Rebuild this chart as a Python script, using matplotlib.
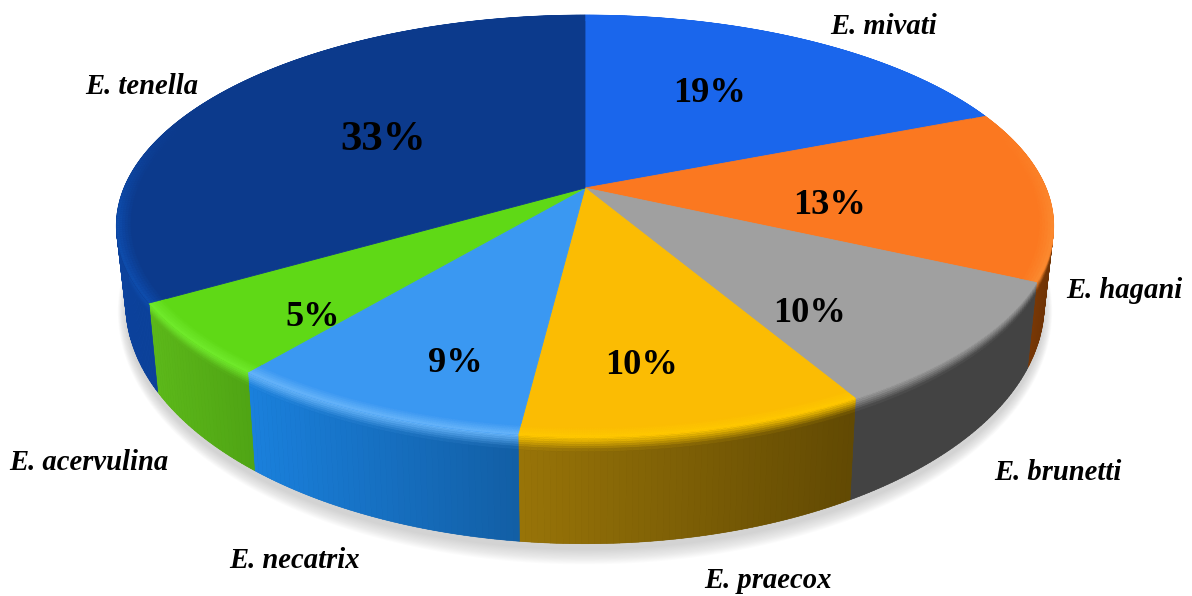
import numpy as np
import matplotlib
matplotlib.use("Agg")
import matplotlib.pyplot as plt
from matplotlib.collections import PolyCollection
from matplotlib.colors import to_rgb
from matplotlib.patches import Polygon

# Species and their share of the total, clockwise from twelve o'clock
species = ["E. mivati", "E. hagani", "E. brunetti", "E. praecox",
           "E. necatrix", "E. acervulina", "E. tenella"]
shares = [18.5, 12.89, 9.54, 9.94, 8.75, 5.49, 32.9]

# Colours of the top face, the rim highlight and the side wall (left to right)
top_colors = ["#1a66ec", "#fb7820", "#a0a0a0", "#fbbc03", "#3a98f2", "#5fd916", "#0c3a8c"]
rim_colors = ["#1a66ec", "#fb8a30", "#a0a0a0", "#ffc800", "#66b4fa", "#70ea2c", "#0e4cac"]
wall_left = ["#1450b8", "#98480a", "#434343", "#987408", "#1a80dc", "#5cb81a", "#0c429c"]
wall_right = ["#1450b8", "#6e3305", "#434343", "#614903", "#125ea4", "#4fa414", "#0b3a8e"]

# Where the texts sit in the canvas, in pixels
name_xy = [(884, 26), (1124, 291), (1058, 473), (768, 581), (295, 560), (89, 462), (142, 87)]
pct_xy = [(709, 94), (830, 205), (810, 313), (641, 366), (455, 364), (313, 317), (383, 140)]
pct_size = [26.2, 26.2, 26.2, 26.2, 26.2, 26.2, 31]

# Perspective of the disc
CX, CY = 585.0, 188.0
A, B, K = 461.0, 204.0, 0.18


def project(theta, r=1.0):
    u, v = r * np.sin(theta), r * np.cos(theta)
    w = 1 + K * v
    return CX + A * u / w, CY - B * v / w


def drop(x, y, t=1.0):
    """Move a rim point down the side wall; t=1 reaches the lower edge."""
    return x + t * (CX - x) * 0.02, y + t * (87 + 0.136 * (y - 290))


def mix(a, b, f):
    return tuple((1 - f) * np.array(a) + f * np.array(b))


fig = plt.figure(figsize=(11.92, 5.96), dpi=100, facecolor="white")
ax = fig.add_axes([0, 0, 1, 1])
ax.set_xlim(0, 1192)
ax.set_ylim(596, 0)
ax.axis("off")

# Soft shadow under the lower edge
full = np.linspace(0, 2 * np.pi, 361)
sx, sy = drop(*project(full))
sx0, sy0 = sx.mean(), sy.mean()
for grow in np.linspace(12, 0, 13):
    fx = sx0 + (sx - sx0) * (1 + grow / 700)
    fy = sy0 + 6 + (sy - sy0) * (1 + grow / 215)
    ax.add_patch(Polygon(np.c_[fx, fy], closed=True, fc="#808080", ec="none", alpha=0.028, zorder=1))

edges = 2 * np.pi * np.r_[0, np.cumsum(shares)] / np.sum(shares)
depth_rows = np.r_[0, 0.015, 0.03, 0.05, 0.07, 0.09, 0.11, 0.14, 1.0]

# Side walls
for i in range(len(shares)):
    th = np.linspace(edges[i], edges[i + 1], max(6, int((edges[i + 1] - edges[i]) * 90)))
    x, y = project(th)
    xb, yb = drop(x, y)
    ax.add_patch(Polygon(np.r_[np.c_[x, y], np.c_[xb, yb][::-1]], closed=True,
                         fc=wall_right[i], ec="none", zorder=2))
    quads, cols = [], []
    span = x.max() - x.min()
    wl, wr, rim = map(to_rgb, (wall_left[i], wall_right[i], rim_colors[i]))
    for k in range(len(th) - 1):
        f = (min(x[k], x[k + 1]) - x.min()) / span
        base = mix(wl, wr, f)
        for t0, t1 in zip(depth_rows[:-1], depth_rows[1:]):
            quads.append([drop(x[k], y[k], t0), drop(x[k + 1], y[k + 1], t0),
                          drop(x[k + 1], y[k + 1], t1), drop(x[k], y[k], t1)])
            cols.append(mix(rim, base, min(1.0, t0 / 0.12)))
    ax.add_collection(PolyCollection(quads, facecolors=cols, edgecolors=cols, linewidths=0.4, zorder=2))

# Top faces, then the soft band along their outer edge
for i in range(len(shares)):
    th = np.linspace(edges[i], edges[i + 1], 200)
    x, y = project(th)
    pts = np.r_[[(CX, CY)], np.c_[x, y]]
    ax.add_patch(Polygon(pts, closed=True, fc=top_colors[i], ec=top_colors[i], lw=0.6, zorder=3))

    radii = np.linspace(0.965, 1.0, 7)
    quads, cols = [], []
    top, rim = to_rgb(top_colors[i]), to_rgb(rim_colors[i])
    for k in range(len(th) - 1):
        front = np.clip((0.35 - np.cos(th[k])) / 0.5, 0, 1)
        for r0, r1 in zip(radii[:-1], radii[1:]):
            quads.append([project(th[k], r0), project(th[k + 1], r0),
                          project(th[k + 1], r1), project(th[k], r1)])
            cols.append(mix(top, rim, front * (r0 - 0.965) / 0.03))
    ax.add_collection(PolyCollection(quads, facecolors=cols, edgecolors=cols, linewidths=0.3, zorder=4))

# Species names and percentages
for name, xy in zip(species, name_xy):
    ax.text(*xy, name, family="Liberation Serif", style="italic", weight="bold",
            fontsize=20.6, color="black", ha="center", va="center", zorder=6)
for share, xy, size in zip(shares, pct_xy, pct_size):
    ax.text(*xy, f"{share + 1e-9:.0f}%", family="Liberation Serif", weight="bold",
            fontsize=size, color="black", ha="center", va="center", zorder=6)

fig.savefig("out.png", dpi=100, facecolor="white")
